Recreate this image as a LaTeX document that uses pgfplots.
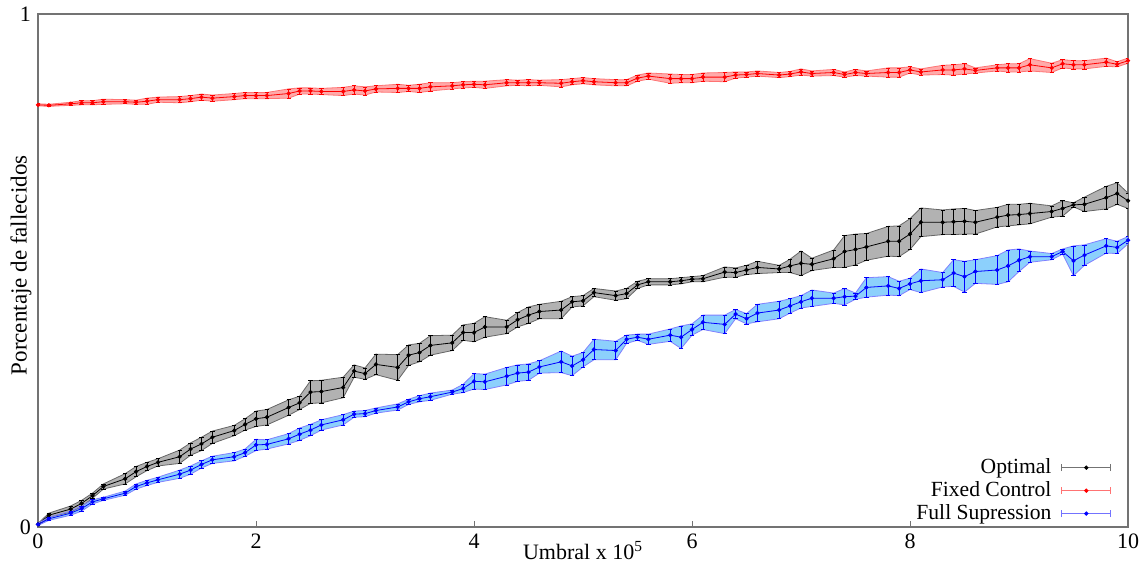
\documentclass[border=0pt]{standalone}
\usepackage{fontspec}
\setmainfont{Liberation Serif}
\usepackage{pgfplots}
\usepackage{pgfplotstable}
\pgfplotsset{compat=1.18}
\usepgfplotslibrary{fillbetween}

\definecolor{bandblue}{RGB}{140,208,252}
\definecolor{bandred}{RGB}{255,170,170}

% x, mean, half width of band
\pgfplotstableread{
x y e
0 0.005 0.002
0.1 0.023 0.004
0.3 0.035 0.006
0.4 0.046 0.006
0.5 0.061 0.005
0.6 0.079 0.005
0.8 0.094 0.010
0.9 0.108 0.010
1.0 0.118 0.008
1.1 0.126 0.007
1.3 0.137 0.013
1.4 0.152 0.012
1.5 0.162 0.013
1.6 0.175 0.012
1.8 0.188 0.010
1.9 0.200 0.011
2.0 0.211 0.015
2.1 0.214 0.015
2.3 0.233 0.015
2.4 0.242 0.013
2.5 0.263 0.022
2.6 0.264 0.022
2.8 0.272 0.020
2.9 0.304 0.012
3.0 0.299 0.011
3.1 0.317 0.020
3.3 0.311 0.025
3.4 0.335 0.020
3.5 0.340 0.018
3.6 0.354 0.019
3.8 0.359 0.015
3.9 0.379 0.015
4.0 0.379 0.018
4.1 0.390 0.020
4.3 0.390 0.013
4.4 0.404 0.014
4.5 0.413 0.016
4.6 0.420 0.014
4.8 0.423 0.017
4.9 0.439 0.010
5.0 0.441 0.010
5.1 0.457 0.008
5.3 0.451 0.009
5.4 0.455 0.010
5.5 0.472 0.007
5.6 0.478 0.006
5.8 0.478 0.006
5.9 0.480 0.006
6.0 0.483 0.005
6.1 0.484 0.006
6.3 0.497 0.010
6.4 0.496 0.009
6.5 0.501 0.009
6.6 0.506 0.012
6.8 0.503 0.007
6.9 0.509 0.013
7.0 0.514 0.024
7.1 0.512 0.012
7.3 0.523 0.017
7.4 0.537 0.031
7.5 0.541 0.030
7.6 0.546 0.026
7.8 0.557 0.029
7.9 0.557 0.030
8.0 0.571 0.030
8.1 0.594 0.028
8.3 0.594 0.024
8.4 0.595 0.025
8.5 0.596 0.025
8.6 0.594 0.023
8.8 0.604 0.019
8.9 0.608 0.021
9.0 0.609 0.020
9.1 0.611 0.020
9.3 0.615 0.011
9.4 0.621 0.015
9.5 0.628 0.004
9.6 0.629 0.014
9.8 0.642 0.022
9.9 0.650 0.021
10.0 0.636 0.015
}\optimal

\pgfplotstableread{
x y e
0 0.823 0.002
0.1 0.822 0.002
0.3 0.825 0.003
0.4 0.827 0.004
0.5 0.827 0.004
0.6 0.829 0.005
0.8 0.829 0.004
0.9 0.828 0.004
1.0 0.830 0.006
1.1 0.833 0.005
1.3 0.833 0.006
1.4 0.835 0.006
1.5 0.838 0.006
1.6 0.836 0.006
1.8 0.839 0.006
1.9 0.841 0.006
2.0 0.841 0.006
2.1 0.841 0.006
2.3 0.845 0.009
2.4 0.850 0.006
2.5 0.850 0.006
2.6 0.849 0.006
2.8 0.849 0.008
2.9 0.852 0.008
3.0 0.850 0.008
3.1 0.854 0.006
3.3 0.855 0.008
3.4 0.855 0.006
3.5 0.855 0.008
3.6 0.858 0.008
3.8 0.860 0.006
3.9 0.862 0.006
4.0 0.863 0.006
4.1 0.862 0.007
4.3 0.866 0.006
4.4 0.866 0.005
4.5 0.866 0.006
4.6 0.866 0.005
4.8 0.865 0.007
4.9 0.868 0.006
5.0 0.870 0.006
5.1 0.868 0.006
5.3 0.866 0.006
5.4 0.866 0.006
5.5 0.875 0.006
5.6 0.879 0.006
5.8 0.874 0.009
5.9 0.874 0.008
6.0 0.874 0.008
6.1 0.877 0.008
6.3 0.877 0.009
6.4 0.881 0.006
6.5 0.882 0.005
6.6 0.884 0.005
6.8 0.881 0.005
6.9 0.883 0.005
7.0 0.887 0.006
7.1 0.884 0.005
7.3 0.886 0.006
7.4 0.882 0.005
7.5 0.886 0.006
7.6 0.884 0.005
7.8 0.886 0.009
7.9 0.886 0.009
8.0 0.891 0.006
8.1 0.887 0.006
8.3 0.891 0.009
8.4 0.891 0.010
8.5 0.893 0.010
8.6 0.890 0.005
8.8 0.895 0.006
8.9 0.895 0.008
9.0 0.895 0.008
9.1 0.901 0.012
9.3 0.895 0.009
9.4 0.903 0.008
9.5 0.901 0.008
9.6 0.901 0.008
9.8 0.906 0.008
9.9 0.902 0.005
10.0 0.909 0.005
}\fixed

\pgfplotstableread{
x y e
0 0.005 0.002
0.1 0.016 0.003
0.3 0.027 0.004
0.4 0.036 0.005
0.5 0.049 0.004
0.6 0.055 0.003
0.8 0.066 0.004
0.9 0.079 0.005
1.0 0.086 0.005
1.1 0.092 0.005
1.3 0.103 0.008
1.4 0.111 0.008
1.5 0.122 0.007
1.6 0.131 0.007
1.8 0.137 0.008
1.9 0.145 0.007
2.0 0.160 0.011
2.1 0.161 0.009
2.3 0.172 0.010
2.4 0.181 0.012
2.5 0.189 0.011
2.6 0.199 0.010
2.8 0.209 0.010
2.9 0.220 0.006
3.0 0.221 0.006
3.1 0.227 0.005
3.3 0.234 0.006
3.4 0.244 0.005
3.5 0.250 0.006
3.6 0.254 0.007
3.8 0.263 0.004
3.9 0.270 0.008
4.0 0.284 0.015
4.1 0.283 0.015
4.3 0.294 0.017
4.4 0.300 0.016
4.5 0.302 0.016
4.6 0.312 0.012
4.8 0.322 0.021
4.9 0.314 0.019
5.0 0.326 0.014
5.1 0.346 0.020
5.3 0.344 0.018
5.4 0.366 0.008
5.5 0.370 0.006
5.6 0.366 0.010
5.8 0.374 0.012
5.9 0.370 0.022
6.0 0.385 0.011
6.1 0.399 0.014
6.3 0.395 0.018
6.4 0.415 0.009
6.5 0.406 0.010
6.6 0.417 0.017
6.8 0.423 0.017
6.9 0.431 0.014
7.0 0.439 0.012
7.1 0.446 0.016
7.3 0.446 0.010
7.4 0.449 0.016
7.5 0.450 0.006
7.6 0.467 0.019
7.8 0.470 0.018
7.9 0.465 0.014
8.0 0.474 0.011
8.1 0.480 0.023
8.3 0.482 0.014
8.4 0.495 0.026
8.5 0.488 0.030
8.6 0.498 0.023
8.8 0.501 0.028
8.9 0.509 0.031
9.0 0.520 0.022
9.1 0.527 0.011
9.3 0.527 0.006
9.4 0.537 0.005
9.5 0.519 0.029
9.6 0.530 0.020
9.8 0.548 0.014
9.9 0.545 0.012
10.0 0.559 0.007
}\fullsup

\pgfplotsset{
    errline/.style={
        mark=*, mark size=0.85pt, line width=0.4pt,
        error bars/.cd, y dir=both, y explicit,
        error bar style={line width=0.4pt},
        error mark options={rotate=90, mark size=1.1pt, line width=0.35pt},
        /pgfplots/.cd,
    },
    gpkey/.style={
        legend image code/.code={
            \draw[##1, mark=none, draw opacity=0.55] (0pt,0pt) -- (24.5pt,0pt)
                (0pt,-1.8pt) -- (0pt,1.8pt) (24.5pt,-1.8pt) -- (24.5pt,1.8pt);
            \draw[##1, only marks] plot coordinates {(12.25pt,0pt)};
        },
    },
}

\begin{document}
\begin{tikzpicture}
    \begin{axis}[
        width=545pt, height=256.5pt,
        scale only axis,
        xmin=0, xmax=10,
        ymin=0, ymax=1,
        xtick={0,2,4,6,8,10},
        xticklabels={0,2,4,6,8,10},
        ytick={0,1},
        yticklabels={0,1},
        xtick pos=bottom, ytick pos=left,
        tick align=inside,
        major tick length=3pt,
        axis line style={black!55, line width=0.6pt},
        tick style={black!55},
        ticklabel style={font=\fontsize{11}{12}\selectfont},
        xlabel={Umbral x 10\textsuperscript{5}},
        xlabel style={at={(axis description cs:0.5,0)}, anchor=base, yshift=-16pt, font=\fontsize{11}{12}\selectfont},
        ylabel={Porcentaje de fallecidos},
        ylabel style={at={(axis description cs:0,0.51)}, anchor=center, yshift=8.5pt, font=\fontsize{11.5}{12}\selectfont},
        legend style={at={(axis description cs:0.985,0)}, anchor=south east,
            draw=none, fill=none, font=\fontsize{10.8}{12}\selectfont,
            row sep=-1.5pt, column sep=3pt, cells={anchor=east}, inner sep=0pt},
        legend plot pos=right,
        legend cell align=right,
    ]
        % Optimal band and line
        \addplot[name path=ou, black!60, line width=0.4pt, forget plot] table[x=x, y expr=\thisrow{y}+\thisrow{e}] {\optimal};
        \addplot[name path=ol, black!60, line width=0.4pt, forget plot] table[x=x, y expr=\thisrow{y}-\thisrow{e}] {\optimal};
        \addplot[fill=black!30, forget plot] fill between[of=ou and ol];
        \addplot[black, gpkey, errline] table[x=x, y=y, y error=e] {\optimal};
        \addlegendentry{Optimal}

        % Fixed Control band and line
        \addplot[name path=fu, red!55, line width=0.4pt, forget plot] table[x=x, y expr=\thisrow{y}+\thisrow{e}] {\fixed};
        \addplot[name path=fl, red!55, line width=0.4pt, forget plot] table[x=x, y expr=\thisrow{y}-\thisrow{e}] {\fixed};
        \addplot[fill=bandred, forget plot] fill between[of=fu and fl];
        \addplot[red, gpkey, errline] table[x=x, y=y, y error=e] {\fixed};
        \addlegendentry{Fixed Control}

        % Full Supression band and line
        \addplot[name path=su, blue!50, line width=0.4pt, forget plot] table[x=x, y expr=\thisrow{y}+\thisrow{e}] {\fullsup};
        \addplot[name path=sl, blue!50, line width=0.4pt, forget plot] table[x=x, y expr=\thisrow{y}-\thisrow{e}] {\fullsup};
        \addplot[fill=bandblue, forget plot] fill between[of=su and sl];
        \addplot[blue, gpkey, errline] table[x=x, y=y, y error=e] {\fullsup};
        \addlegendentry{Full Supression}
    \end{axis}
    \pgfresetboundingbox
    \path (-19pt,-18.5pt) rectangle (554pt,263.5pt);
\end{tikzpicture}
\end{document}
